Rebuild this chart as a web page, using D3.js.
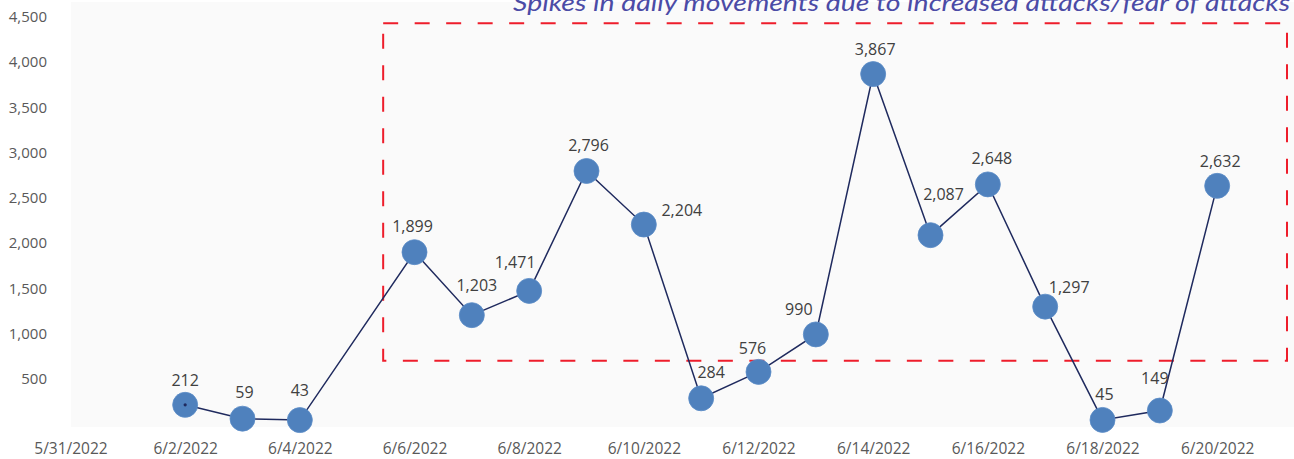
<!DOCTYPE html>
<html lang="en">
<head>
    <meta charset="UTF-8">
    <title>Daily movements</title>
    <script src="https://d3js.org/d3.v7.min.js"></script>
    <style>
        body { margin: 0; background: #ffffff; }
        svg { display: block; }
        .tick text { font-family: "Open Sans", "Noto Sans", sans-serif; }
    </style>
</head>
<body>
    <div id="chart"></div>
    <script>
        // values (no point on 6/5)
        const dates = ["2022-06-02", "2022-06-03", "2022-06-04", "2022-06-06", "2022-06-07",
            "2022-06-08", "2022-06-09", "2022-06-10", "2022-06-11", "2022-06-12", "2022-06-13",
            "2022-06-14", "2022-06-15", "2022-06-16", "2022-06-17", "2022-06-18", "2022-06-19", "2022-06-20"];
        const movements = [212, 59, 43, 1899, 1203, 1471, 2796, 2204, 284, 576, 990,
            3867, 2087, 2648, 1297, 45, 149, 2632];
        const yTicks = [500, 1000, 1500, 2000, 2500, 3000, 3500, 4000, 4500];
        const xTicks = ["2022-05-31", "2022-06-02", "2022-06-04", "2022-06-06", "2022-06-08", "2022-06-10",
            "2022-06-12", "2022-06-14", "2022-06-16", "2022-06-18", "2022-06-20"];
        const title = "Spikes in daily movements due to increased attacks/fear of attacks";

        // label nudges [dx, dy] relative to the marker centre
        const labelNudge = [[0, -25], [2, -27], [0, -30], [-2, -26], [5, -30], [-14, -29], [2, -26],
            [38, -15], [10, -26], [-6, -24], [-17, -25], [2, -25], [13, -41], [4, -26], [24, -20],
            [2, -26], [-5, -33], [3, -25]];

        const parse = d3.timeParse("%Y-%m-%d");
        const data = dates.map((d, i) => ({ date: parse(d), value: movements[i], nudge: labelNudge[i] }));

        const W = 1294, H = 459;
        const svg = d3.select("#chart").append("svg")
            .attr("width", W)
            .attr("height", H);

        const start = parse("2022-05-31");
        const end = new Date(start.getTime() + 21.34 * 864e5);
        const x = d3.scaleTime().domain([start, end]).range([70.5, 1294]);
        const y = d3.scaleLinear().domain([0, 4500]).range([424, 16.8]);

        // plot background
        svg.append("rect")
            .attr("x", 71).attr("y", 2)
            .attr("width", W - 71).attr("height", 425)
            .attr("fill", "#fafafa");

        // x axis
        const fmt = d3.timeFormat("%-m/%-d/%Y");
        const xAxis = svg.append("g")
            .attr("transform", "translate(0, 440)")
            .call(d3.axisBottom(x).tickValues(xTicks.map(parse)).tickFormat(fmt).tickSize(0));
        xAxis.select(".domain").remove();
        xAxis.selectAll("text")
            .attr("fill", "#595959")
            .attr("font-size", 15.5)
            .attr("dy", "0.71em");

        // y axis
        const yAxis = svg.append("g")
            .attr("transform", "translate(58, 0)")
            .call(d3.axisLeft(y).tickValues(yTicks).tickFormat(d3.format(",")).tickSize(0));
        yAxis.select(".domain").remove();
        yAxis.selectAll("text")
            .attr("fill", "#595959")
            .attr("font-size", 15)
            .attr("x", -11);

        // dashed highlight box, from between 6/5 and 6/6 to the right edge
        const boxLeft = x(parse("2022-06-05")) + 26;
        svg.append("rect")
            .attr("x", boxLeft)
            .attr("y", y(4430))
            .attr("width", 1287 - boxLeft)
            .attr("height", y(700) - y(4430))
            .attr("fill", "none")
            .attr("stroke", "#ee1d2b")
            .attr("stroke-width", 2)
            .attr("stroke-dasharray", "15,16.5");

        // line
        const line = d3.line()
            .x(d => x(d.date))
            .y(d => y(d.value));

        svg.append("path")
            .datum(data)
            .attr("fill", "none")
            .attr("stroke", "#1f2a5e")
            .attr("stroke-width", 1.5)
            .attr("d", line);

        // markers
        svg.selectAll("circle.pt")
            .data(data)
            .join("circle")
            .attr("class", "pt")
            .attr("cx", d => x(d.date))
            .attr("cy", d => y(d.value))
            .attr("r", 12.5)
            .attr("fill", "#4f81bd")
            .attr("stroke", "#5b8bc6")
            .attr("stroke-width", 0.8);

        svg.append("circle")
            .attr("cx", x(data[0].date))
            .attr("cy", y(data[0].value))
            .attr("r", 1.6)
            .attr("fill", "#1f2a5e");

        // data labels
        svg.selectAll("text.lbl")
            .data(data)
            .join("text")
            .attr("class", "lbl")
            .attr("x", d => x(d.date) + d.nudge[0])
            .attr("y", d => y(d.value) + d.nudge[1])
            .attr("text-anchor", "middle")
            .attr("dominant-baseline", "central")
            .attr("font-family", "'Open Sans', 'Noto Sans', sans-serif")
            .attr("font-size", 16)
            .attr("fill", "#404040")
            .text(d => d3.format(",")(d.value));

        // title (runs off the top edge as in the source)
        svg.append("text")
            .attr("x", 1290)
            .attr("y", 11)
            .attr("text-anchor", "end")
            .attr("font-family", "Lato, 'Open Sans', sans-serif")
            .attr("font-style", "italic")
            .attr("font-size", 24)
            .attr("fill", "#4b4ba6")
            .attr("textLength", 777)
            .attr("lengthAdjust", "spacingAndGlyphs")
            .text(title);
    </script>
</body>
</html>
